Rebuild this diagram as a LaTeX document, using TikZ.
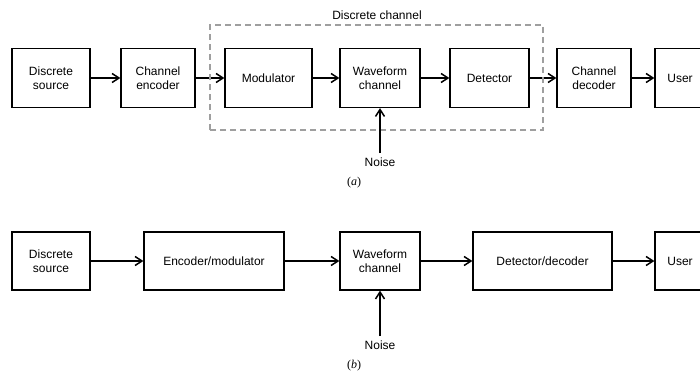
\documentclass[tikz,border=0pt]{standalone}
\usepackage{fontspec}
\setmainfont{Liberation Sans}
\newfontfamily\partfont{Liberation Serif}
\usetikzlibrary{arrows.meta}

\begin{document}
\begin{tikzpicture}[
  blk/.style={draw, line width=1.2pt, minimum height=59pt, align=center,
              inner sep=0pt, font=\fontsize{12}{14}\selectfont},
  flow/.style={line width=1.5pt, -{Straight Barb[length=7pt, width=9pt]}},
  txt/.style={font=\fontsize{12}{14}\selectfont}
]
\clip (0, 0) rectangle (700pt, 373pt);
\fill [white] (0, 0) rectangle (700pt, 373pt);

% (a)
\node (srcA) at (51pt, 295pt)    [blk, minimum width=78pt] {Discrete\\source};
\node (encA) at (158pt, 295pt)   [blk, minimum width=74pt] {Channel\\encoder};
\node (mod)  at (268.5pt, 295pt) [blk, minimum width=87pt] {Modulator};
\node (wavA) at (380pt, 295pt)   [blk, minimum width=80pt] {Waveform\\channel};
\node (det)  at (489.5pt, 295pt) [blk, minimum width=79pt] {Detector};
\node (decA) at (594pt, 295pt)   [blk, minimum width=74pt] {Channel\\decoder};
\node (userA) at (680pt, 295pt)  [blk, minimum width=50pt] {User};
\draw [flow] (srcA) -- (encA);
\draw [flow] (encA) -- (mod);
\draw [flow] (mod) -- (wavA);
\draw [flow] (wavA) -- (det);
\draw [flow] (det) -- (decA);
\draw [flow] (decA) -- (userA);
\draw [gray!75, line width=1.2pt, dash pattern=on 6pt off 4pt]
  (210pt, 243pt) rectangle (543pt, 348pt);
\node (dchan) at (377pt, 358pt) [txt] {Discrete channel};
\node (noiseA) at (380pt, 211pt) [txt] {Noise};
\draw [flow] (noiseA.north) ++(0, 1pt) coordinate (nA) (nA) -- (wavA.south);
\node (partA) at (354pt, 190pt) {\partfont\fontsize{12}{14}\selectfont(\textit{a})};

% (b)
\node (srcB) at (51pt, 112pt)     [blk, minimum width=78pt, minimum height=58pt] {Discrete\\source};
\node (encmod) at (214pt, 112pt)  [blk, minimum width=140pt, minimum height=58pt] {Encoder/modulator};
\node (wavB) at (380pt, 112pt)    [blk, minimum width=80pt, minimum height=58pt] {Waveform\\channel};
\node (detdec) at (542.5pt, 112pt) [blk, minimum width=139pt, minimum height=58pt] {Detector/decoder};
\node (userB) at (680pt, 112pt)   [blk, minimum width=50pt, minimum height=58pt] {User};
\draw [flow] (srcB) -- (encmod);
\draw [flow] (encmod) -- (wavB);
\draw [flow] (wavB) -- (detdec);
\draw [flow] (detdec) -- (userB);
\node (noiseB) at (380pt, 28pt) [txt] {Noise};
\draw [flow] (noiseB.north) ++(0, 1pt) coordinate (nB) (nB) -- (wavB.south);
\node (partB) at (354pt, 7pt) {\partfont\fontsize{12}{14}\selectfont(\textit{b})};
\end{tikzpicture}
\end{document}
